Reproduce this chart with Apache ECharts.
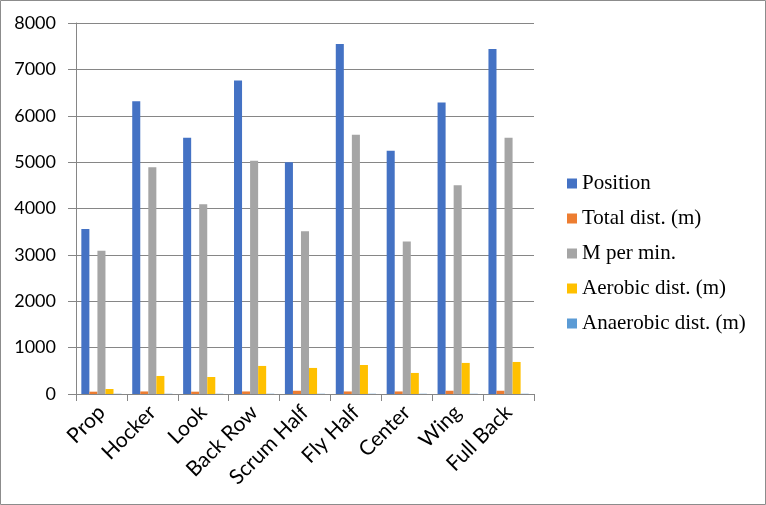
<!DOCTYPE html>
<html>
<head>
<meta charset="utf-8">
<script src="https://cdn.jsdelivr.net/npm/echarts@6/dist/echarts.min.js"></script>
<style>
html,body{margin:0;padding:0;background:#fff;}
#chart{width:766px;height:505px;}
</style>
</head>
<body>
<div id="chart"></div>
<script>
const categories = ["Prop","Hocker","Look","Back Row","Scrum Half","Fly Half","Center","Wing","Full Back"];
const seriesNames = ["Position","Total dist. (m)","M per min.","Aerobic dist. (m)","Anaerobic dist. (m)"];
const position = [3560, 6310, 5525, 6760, 5000, 7546, 5244, 6286, 7438];
const totalDist = [50, 55, 50, 55, 70, 55, 55, 70, 70];
const mPerMin = [3090, 4890, 4093, 5028, 3510, 5590, 3290, 4503, 5525];
const aerobicDist = [108, 389, 367, 605, 562, 626, 454, 670, 691];
const anaerobicDist = [5, 5, 5, 5, 5, 5, 5, 5, 5];
const yTicks = [0, 1000, 2000, 3000, 4000, 5000, 6000, 7000, 8000];

const colors = ["#4472C4","#ED7D31","#A5A5A5","#FFC000","#5B9BD5"];
const dataSets = [position, totalDist, mPerMin, aerobicDist, anaerobicDist];

const chart = echarts.init(document.getElementById('chart'), null, {renderer:'canvas'});
const option = {
  animation:false,
  backgroundColor:'#ffffff',
  color: colors,
  graphic:[{type:'rect',shape:{x:0.5,y:0.5,width:765,height:504},style:{fill:'none',stroke:'#8c8c8c',lineWidth:1},silent:true}],
  grid:{left:76,right:232,top:23,bottom:111},
  legend:{
    orient:'vertical', left:567, top:173, padding:0,
    itemWidth:10, itemHeight:10, itemGap:14, icon:'rect',
    textStyle:{fontFamily:'Liberation Serif', fontSize:21, color:'#000'},
    data: seriesNames
  },
  xAxis:{
    type:'category', data:categories,
    axisLine:{lineStyle:{color:'#868686'}},
    axisTick:{show:true, length:7, lineStyle:{color:'#868686'}},
    axisLabel:{rotate:45, margin:15, interval:0, fontFamily:'Lato', fontSize:21, color:'#000'}
  },
  yAxis:{
    type:'value', min:yTicks[0], max:yTicks[yTicks.length-1], interval:1000,
    axisLine:{show:true, lineStyle:{color:'#868686'}},
    axisTick:{show:true, inside:false, length:8, lineStyle:{color:'#868686'}},
    splitLine:{lineStyle:{color:'#868686'}},
    axisLabel:{margin:20, fontFamily:'Lato', fontSize:18, color:'#000', formatter:(v)=>String(v)}
  },
  series: seriesNames.map((n,i)=>({
    name:n, type:'bar', data:dataSets[i],
    barGap:'0%', barCategoryGap:'21%',
    itemStyle:{color:colors[i]}
  }))
};
chart.setOption(option);
</script>
</body>
</html>
